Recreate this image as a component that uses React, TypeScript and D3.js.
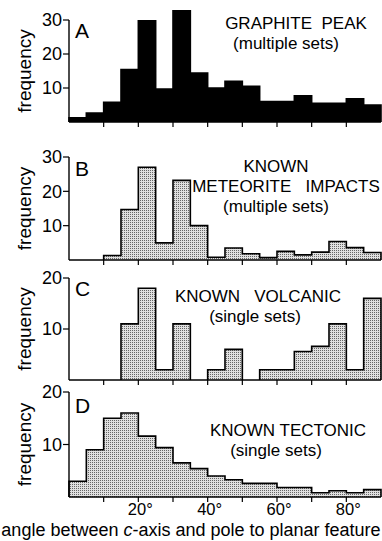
import React from "react";
import * as d3 from "d3";

// 5-degree bins, left edges
const binStarts = [0, 5, 10, 15, 20, 25, 30, 35, 40, 45, 50, 55, 60, 65, 70, 75, 80, 85];

const graphitePeak = [1.2, 2.6, 5.8, 15.4, 29.8, 9.7, 32.7, 14.4, 10, 12, 10.5, 6, 6, 7.7, 5.5, 5.5, 6.8, 5];
const meteoriteImpacts = [0, 0, 1.3, 14.7, 27, 5, 23.2, 10, 0.8, 3.5, 1.8, 0.7, 2.5, 1.5, 2.3, 5.4, 3.6, 2.2];
const volcanic = [0, 0, 0, 11, 18, 2, 11, 0, 2, 6, 0, 2, 2, 5.6, 6.6, 11, 2, 16];
const tectonic = [3, 9, 15, 16, 11.6, 9.4, 6.5, 5.4, 4, 3.3, 2.6, 2.6, 1.8, 1.8, 0.8, 1.2, 0.8, 1.4];

const yTicksA = [10, 20, 30];
const yTicksB = [10, 20, 30];
const yTicksC = [10, 20];
const yTicksD = [10, 20];

const xTicks = [10, 20, 30, 40, 50, 60, 70, 80];
const xLabels = [20, 40, 60, 80];

const FONT = "Liberation Sans, Arial, Helvetica, sans-serif";

type Panel = {
  letter: string;
  letterY: number;
  values: number[];
  yTicks: number[];
  yMax: number;
  top: number;
  bottom: number;
  solid: boolean;
  title: { text: string; x: number; y: number }[];
};

const panels: Panel[] = [
  {
    letter: "A", letterY: 38, values: graphitePeak, yTicks: yTicksA, yMax: 30, top: 20, bottom: 122, solid: true,
    title: [
      { text: "GRAPHITE  PEAK", x: 296, y: 29 },
      { text: "(multiple sets)", x: 286, y: 49 },
    ],
  },
  {
    letter: "B", letterY: 176, values: meteoriteImpacts, yTicks: yTicksB, yMax: 30, top: 157, bottom: 260, solid: false,
    title: [
      { text: "KNOWN", x: 276, y: 172 },
      { text: "METEORITE   IMPACTS", x: 286, y: 192 },
      { text: "(multiple sets)", x: 276, y: 212 },
    ],
  },
  {
    letter: "C", letterY: 296, values: volcanic, yTicks: yTicksC, yMax: 20, top: 278, bottom: 380, solid: false,
    title: [
      { text: "KNOWN   VOLCANIC", x: 258, y: 302 },
      { text: "(single sets)", x: 255, y: 322 },
    ],
  },
  {
    letter: "D", letterY: 413, values: tectonic, yTicks: yTicksD, yMax: 20, top: 392, bottom: 497, solid: false,
    title: [
      { text: "KNOWN TECTONIC", x: 288, y: 436 },
      { text: "(single sets)", x: 276, y: 456 },
    ],
  },
];

const x = d3.scaleLinear().domain([0, 90]).range([69, 381]);

function outlinePath(values: number[], y: d3.ScaleLinear<number, number>) {
  const base = y(0);
  let d = "";
  let open = false;
  values.forEach((v, i) => {
    const x0 = x(binStarts[i]);
    const x1 = x(binStarts[i] + 5);
    if (v > 0) {
      if (!open) {
        d += `M${x0},${base}`;
        open = true;
      }
      d += `L${x0},${y(v)}L${x1},${y(v)}`;
    } else if (open) {
      d += `L${x0},${base}`;
      open = false;
    }
  });
  if (open) d += `L${x(90)},${base}`;
  return d;
}

function HistPanel({ p }: { p: Panel }) {
  const y = d3.scaleLinear().domain([0, p.yMax]).range([p.bottom, p.top]);
  const mid = (p.top + p.bottom) / 2;
  const d = outlinePath(p.values, y);
  return (
    <g>
      <path d={d} fill={p.solid ? "#000" : "url(#stipple)"} stroke="none" />
      <path d={d} fill="none" stroke="#000" strokeWidth={1.6} />
      {/* x axis */}
      <line x1={x(0)} x2={x(90)} y1={y(0)} y2={y(0)} stroke="#000" strokeWidth={1.4} />
      {xTicks.map((t) => (
        <line key={t} x1={x(t)} x2={x(t)} y1={y(0)} y2={y(0) + 5} stroke="#000" strokeWidth={1.2} />
      ))}
      {/* y axis */}
      <line x1={x(0)} x2={x(0)} y1={y(0)} y2={y(p.yMax)} stroke="#000" strokeWidth={1.4} />
      {p.yTicks.map((t) => (
        <g key={t}>
          <line x1={x(0) - 6} x2={x(0)} y1={y(t)} y2={y(t)} stroke="#000" strokeWidth={1.2} />
          <text x={x(0) - 7} y={y(t)} dy="0.36em" textAnchor="end" fontSize={18} fontFamily={FONT}>
            {t}
          </text>
        </g>
      ))}
      <text
        transform={`translate(31,${mid}) rotate(-90)`}
        textAnchor="middle"
        fontSize={19}
        fontFamily={FONT}
      >
        frequency
      </text>
      <text x={x(0) + 6} y={p.letterY} fontSize={21} fontFamily={FONT}>
        {p.letter}
      </text>
      {p.title.map((t, i) => (
        <text
          key={i}
          x={t.x}
          y={t.y}
          textAnchor="middle"
          fontSize={17}
          fontFamily={FONT}
          style={{ whiteSpace: "pre" }}
        >
          {t.text}
        </text>
      ))}
    </g>
  );
}

export default function App() {
  const last = panels[panels.length - 1];
  return (
    <svg width={382} height={541} style={{ position: "absolute", left: 0, top: 0, background: "#fff" }}>
      <defs>
        <pattern id="stipple" width={2} height={2} patternUnits="userSpaceOnUse">
          <rect width={2} height={2} fill="#e0e0e0" />
          <rect x={0} y={0} width={1} height={1} fill="#666" />
        </pattern>
      </defs>
      {panels.map((p) => (
        <HistPanel key={p.letter} p={p} />
      ))}
      {xLabels.map((t) => (
        <text key={t} x={x(t) + 2} y={last.bottom + 18} textAnchor="middle" fontSize={16.5} fontFamily={FONT}>
          {t}°
        </text>
      ))}
      <text x={191} y={536} textAnchor="middle" fontSize={18} fontFamily={FONT}>
        angle between <tspan fontStyle="italic">c</tspan>-axis and pole to planar feature
      </text>
    </svg>
  );
}
